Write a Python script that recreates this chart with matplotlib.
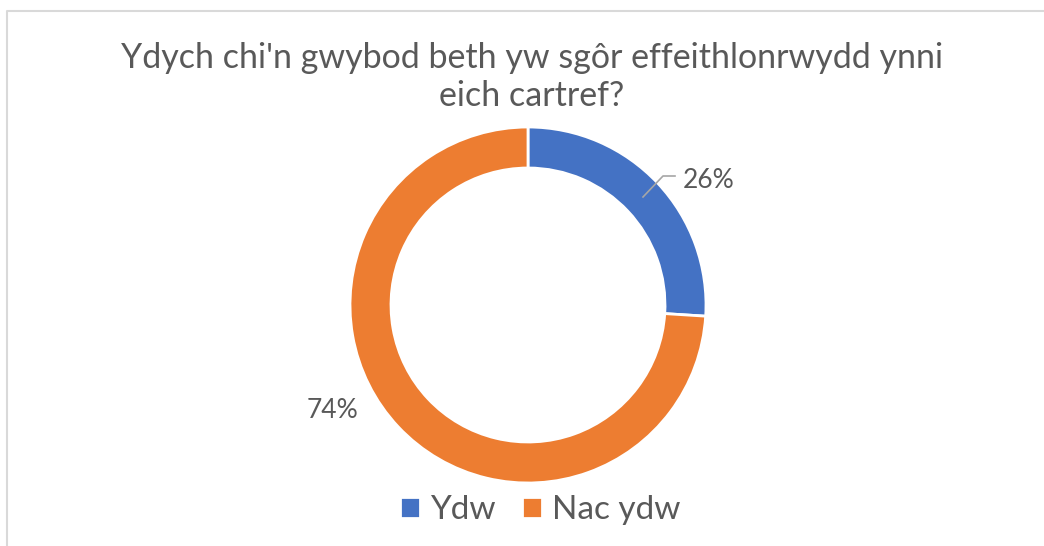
import matplotlib
matplotlib.use("Agg")
import matplotlib.pyplot as plt

categories = ["Ydw", "Nac ydw"]
shares = [26, 74]
colors = ["#4472C4", "#ED7D31"]
title = "Ydych chi'n gwybod beth yw sgôr effeithlonrwydd ynni\neich cartref?"

plt.rcParams['font.family'] = ['Lato', 'DejaVu Sans']
text_col = "#595959"

fig = plt.figure(figsize=(10.44, 5.46), dpi=100)
ax = fig.add_axes([0, 0, 1, 1])

# donut, pixel coordinates (y up)
cx, cy, r = 528, 241, 178
wedges, _ = ax.pie(shares, colors=colors, startangle=90, counterclock=False,
                   center=(cx, cy), radius=r, frame=True,
                   wedgeprops=dict(width=41, edgecolor="white", linewidth=2))
ax.set_xlim(0, 1044)
ax.set_ylim(0, 546)
ax.axis("off")

# data labels
ax.text(683, 366, f"{shares[0]}%", fontsize=19, color=text_col, va="center", ha="left")
ax.plot([643, 663, 675], [349, 370, 370], color="#A6A6A6", lw=1.2)
ax.text(333, 135, f"{shares[1]}%", fontsize=19, color=text_col, va="center", ha="center")

ax.text(532, 469, title, fontsize=24.5, color=text_col, ha="center", va="center",
        linespacing=1.22)

# chart border
ax.plot([6.5, 6.5, 1044], [0, 535, 535], color="#D9D9D9", lw=1.5)

leg = ax.legend(wedges, categories, loc="lower center", bbox_to_anchor=(0.5175, -0.017),
                ncol=2, frameon=False, fontsize=24, handlelength=0.6, handleheight=0.6,
                handletextpad=0.3, columnspacing=0.8, labelcolor=text_col)

plt.savefig("out.png", dpi=100)
